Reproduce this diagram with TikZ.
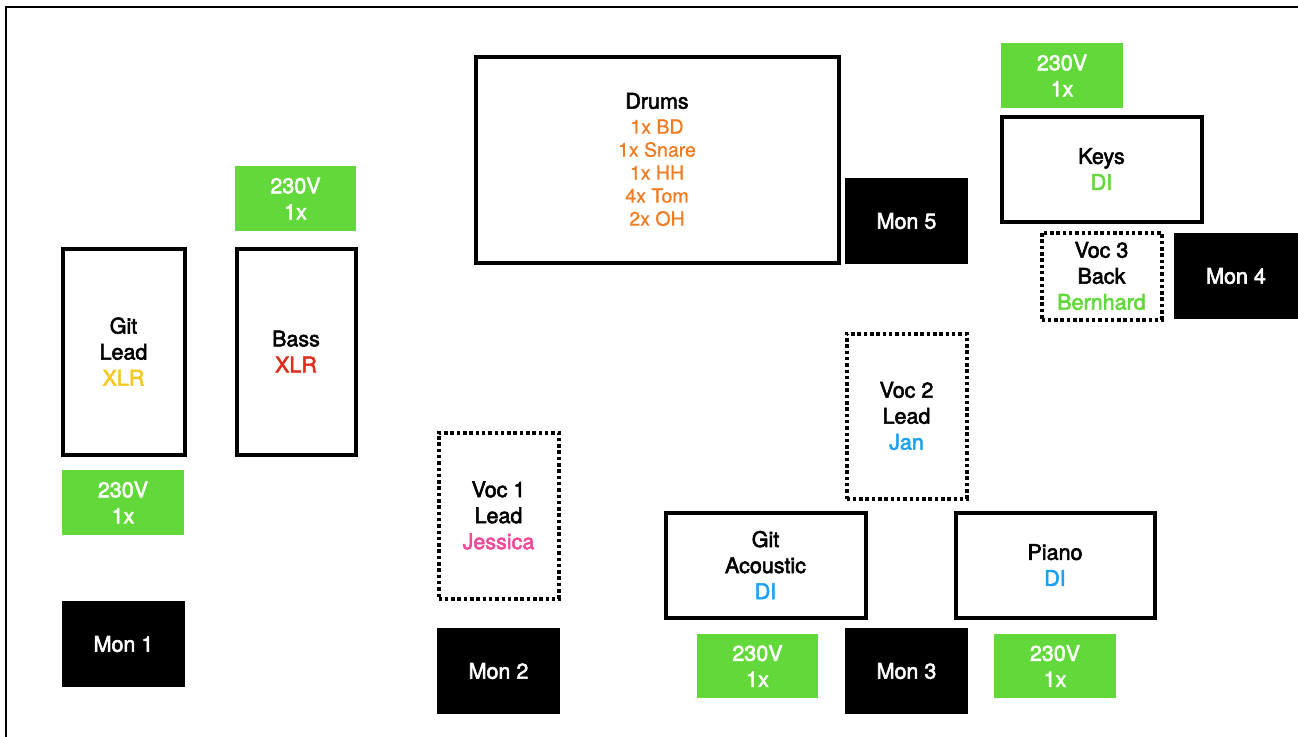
\documentclass[tikz,border=0pt]{standalone}
\usepackage{fontspec}
\setmainfont{TeX Gyre Heros}
\newfontfamily\medfont[FakeBold=2.5]{TeX Gyre Heros}
\newfontfamily\regfont[FakeBold=0.8]{TeX Gyre Heros}
\definecolor{pwgreen}{RGB}{98,216,59}
\definecolor{drumorange}{RGB}{240,124,34}
\definecolor{xlryellow}{RGB}{246,200,30}
\definecolor{xlrred}{RGB}{224,44,30}
\definecolor{jpink}{RGB}{240,72,155}
\definecolor{diblue}{RGB}{28,160,240}
\newcommand{\drumline}[1]{\textcolor{drumorange}{\regfont\fontsize{19.5}{23}\selectfont #1}}
\begin{document}
\begin{tikzpicture}[x=1pt,y=-1pt,
  every node/.style={inner sep=0pt,outer sep=0pt,align=center,
    font=\medfont\fontsize{21.5}{26}\selectfont},
  instr/.style={draw=black,line width=4pt,fill=white},
  vocbox/.style={draw=black,line width=4pt,dash pattern=on 3.5pt off 2.8pt,fill=white},
  monbox/.style={fill=black,text=white},
  pwbox/.style={fill=pwgreen,text=white}]
\useasboundingbox (0,0) rectangle (1298,736);
\fill[white] (0,0) rectangle (1298,736);
\coordinate (fbl) at (6,740);
\coordinate (ftl) at (6,7);
\coordinate (ftr) at (1302,7);
\draw[line width=2.5pt] (fbl) -- (ftl) -- (ftr);

% left side
\node[pwbox,minimum width=121pt,minimum height=65pt] (pwbass) at (295.5,198.5) {230V\\1x};
\node[instr,minimum width=122pt,minimum height=206pt] (gitlead) at (123.5,351.5) {Git\\Lead\\\textcolor{xlryellow}{XLR}};
\node[instr,minimum width=119pt,minimum height=206pt] (bass) at (296,351.5) {Bass\\\textcolor{xlrred}{XLR}};
\node[pwbox,minimum width=122pt,minimum height=65pt] (pwgit) at (123,502.5) {230V\\1x};
\node[monbox,minimum width=123pt,minimum height=86pt] (mon1) at (123.5,644) {Mon 1};

% drums
\node[instr,minimum width=363pt,minimum height=206pt] (drums) at (657,159.5) {Drums\\[-1pt]\drumline{1x BD}\\[-3pt]\drumline{1x Snare}\\[-3pt]\drumline{1x HH}\\[-3pt]\drumline{4x Tom}\\[-3pt]\drumline{2x OH}};
\node[monbox,minimum width=123pt,minimum height=86pt] (mon5) at (906.5,221) {Mon 5};

% keys
\node[pwbox,minimum width=122pt,minimum height=65pt] (pwkeys) at (1062,75.5) {230V\\1x};
\node[instr,minimum width=200pt,minimum height=105pt] (keys) at (1101.5,169) {Keys\\\textcolor{pwgreen}{DI}};
\node[vocbox,minimum width=120pt,minimum height=87pt] (voc3) at (1101.5,276) {Voc 3\\Back\\\textcolor{pwgreen}{Bernhard}};
\node[monbox,minimum width=124pt,minimum height=86pt] (mon4) at (1236,276) {Mon 4};

% centre
\node[vocbox,minimum width=120pt,minimum height=165pt] (voc2) at (906.5,416) {Voc 2\\Lead\\\textcolor{diblue}{Jan}};
\node[vocbox,minimum width=120pt,minimum height=166pt] (voc1) at (498.5,515.5) {Voc 1\\Lead\\\textcolor{jpink}{Jessica}};
\node[monbox,minimum width=123pt,minimum height=86pt] (mon2) at (498.5,671) {Mon 2};
\node[instr,minimum width=200pt,minimum height=105pt] (gitac) at (765.5,565) {Git\\Acoustic\\\textcolor{diblue}{DI}};
\node[instr,minimum width=199pt,minimum height=105pt] (piano) at (1055,565) {Piano\\\textcolor{diblue}{DI}};
\node[pwbox,minimum width=121pt,minimum height=64pt] (pwac) at (757.5,666) {230V\\1x};
\node[monbox,minimum width=123pt,minimum height=86pt] (mon3) at (906.5,671) {Mon 3};
\node[pwbox,minimum width=122pt,minimum height=64pt] (pwpiano) at (1055,666) {230V\\1x};
\end{tikzpicture}
\end{document}
